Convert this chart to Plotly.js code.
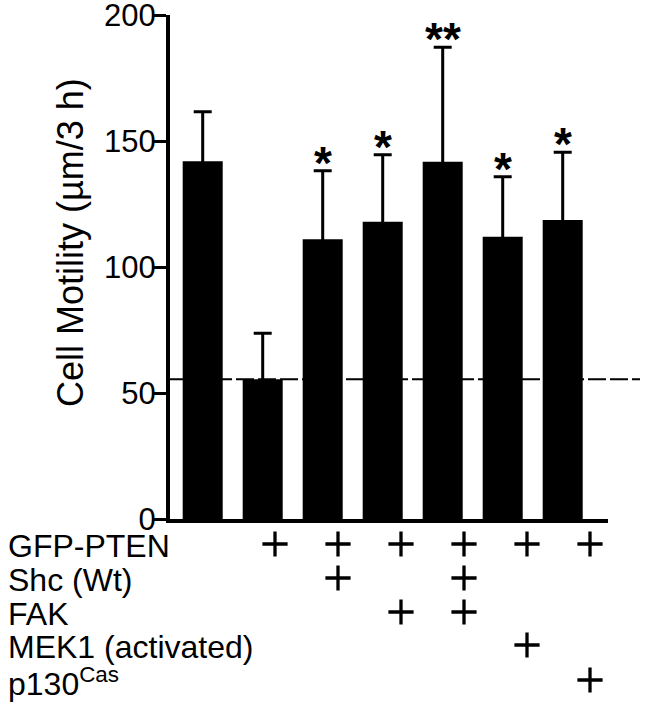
<!DOCTYPE html>
<html>
<head>
<meta charset="utf-8">
<script src="https://cdn.plot.ly/plotly-3.0.1.min.js"></script>
<style>html,body{margin:0;padding:0;background:#fff;}#chart{width:648px;height:720px;}</style>
</head>
<body>
<div id="chart"></div>
<script>
// ---- data ----
const categories = ["Control", "GFP-PTEN", "+Shc", "+FAK", "+Shc+FAK", "+MEK1", "+p130Cas"];
const motility = [142, 55.5, 111, 118, 141.8, 112, 118.7];
const motilityErr = [19.6, 18.2, 27.2, 26.5, 45.4, 23.8, 26.8];
const significance = ["", "", "*", "*", "**", "*", "*"];
const rowLabels = ["GFP-PTEN", "Shc (Wt)", "FAK", "MEK1 (activated)", "p130<sup>Cas</sup>"];
const rowGFP = [0, 1, 1, 1, 1, 1, 1];
const rowShc = [0, 0, 1, 0, 1, 0, 0];
const rowFAK = [0, 0, 0, 1, 1, 0, 0];
const rowMEK = [0, 0, 0, 0, 0, 1, 0];
const rowCas = [0, 0, 0, 0, 0, 0, 1];
const yTicks = [0, 50, 100, 150, 200];
const yTitle = "Cell Motility (\u00b5m/3 h)";

// ---- layout helpers ----
const W = 648, H = 720;
const mL = 170, mR = 40, mT = 15, mB = 0;
const axisBottomPx = 519;           // pixel row of the value-axis zero line
const plotW = W - mL - mR, plotH = H - mT - mB;
const yDomainLow = (H - mB - axisBottomPx) / plotH;
const pxToPaperX = px => (px - mL) / plotW;
const pyToPaperY = py => (H - mB - py) / plotH;
const FONT = "Liberation Sans, Arial, Helvetica, sans-serif";

const rows = [rowGFP, rowShc, rowFAK, rowMEK, rowCas];
const rowPy = [545, 579, 613, 646, 681];
const colPx0 = 275, colStep = 63;

const annotations = [];
// y-axis title
annotations.push({
  x: pxToPaperX(70), y: pyToPaperY(243), xref: "paper", yref: "paper",
  text: yTitle, textangle: -90, showarrow: false,
  xanchor: "center", yanchor: "middle",
  font: {family: FONT, size: 36, color: "#000"}
});
// significance stars
categories.forEach((c, i) => {
  if (significance[i]) {
    annotations.push({
      x: c, y: motility[i] + motilityErr[i], xref: "x", yref: "y",
      text: significance[i], showarrow: false, yanchor: "bottom",
      yshift: -20,
      font: {family: FONT, size: 46, color: "#000", weight: "bold"}
    });
  }
});
// condition table: row labels
rowLabels.forEach((lab, r) => {
  annotations.push({
    x: pxToPaperX(6), y: pyToPaperY(rowPy[r] + 1), xref: "paper", yref: "paper",
    text: lab, showarrow: false, xanchor: "left", yanchor: "middle",
    font: {family: FONT, size: 32, color: "#000"}
  });
});
// condition table: plus marks
const plusX = [], plusY = [];
rows.forEach((row, r) => {
  row.forEach((flag, i) => {
    if (flag) {
      plusX.push(colPx0 + (i - 1) * colStep);
      plusY.push(rowPy[r] - 1);
    }
  });
});

const barTrace = {
  type: "bar",
  x: categories,
  y: motility,
  marker: {color: "#000", line: {width: 0}},
  error_y: {type: "data", array: motilityErr, visible: true, color: "#000", thickness: 3, width: 9},
  hoverinfo: "none"
};
const plusTrace = {
  type: "scatter", mode: "markers",
  x: plusX, y: plusY, xaxis: "x2", yaxis: "y2",
  marker: {symbol: "cross-thin", size: 18, color: "#000", line: {color: "#000", width: 3.3}},
  cliponaxis: false, hoverinfo: "none"
};

const layout = {
  width: W, height: H,
  margin: {l: mL, r: mR, t: mT, b: mB},
  paper_bgcolor: "#fff", plot_bgcolor: "rgba(0,0,0,0)",
  showlegend: false,
  bargap: 0.333,
  font: {family: FONT, color: "#000"},
  xaxis: {
    type: "category",
    anchor: "y",
    range: [-0.545, 6.755],
    showticklabels: false, ticks: "",
    showline: true, linecolor: "#000", linewidth: 4,
    showgrid: false, zeroline: false, fixedrange: true
  },
  yaxis: {
    domain: [yDomainLow, 1],
    range: [0, 200],
    tickvals: yTicks,
    ticktext: yTicks.map(String),
    ticks: "outside", ticklen: 14, tickwidth: 3, tickcolor: "#000",
    tickfont: {family: FONT, size: 31, color: "#000"},
    ticklabeloverflow: "allow",
    ticklabelstandoff: -10,
    showline: true, linecolor: "#000", linewidth: 4,
    showgrid: false, zeroline: false, fixedrange: true
  },
  xaxis2: {anchor: "y2", range: [mL, W - mR], visible: false, fixedrange: true},
  yaxis2: {anchor: "x2", domain: [0, 1], range: [H - mB, mT], visible: false, fixedrange: true},
  shapes: [{
    type: "line", xref: "paper", yref: "y",
    x0: 0, x1: pxToPaperX(640),
    y0: motility[1], y1: motility[1],
    line: {color: "#000", width: 2, dash: "18px,4px"},
    layer: "below"
  }],
  annotations: annotations
};

Plotly.newPlot("chart", [barTrace, plusTrace], layout, {staticPlot: true, displayModeBar: false});
</script>
</body>
</html>
